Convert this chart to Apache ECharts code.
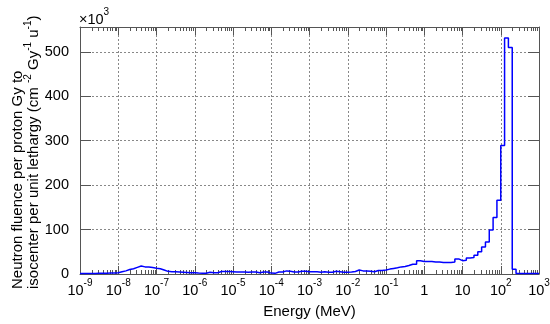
<!DOCTYPE html>
<html>
<head>
<meta charset="utf-8">
<script src="https://cdn.jsdelivr.net/npm/echarts@6/dist/echarts.min.js"></script>
<style>
  html, body { margin: 0; padding: 0; background: #fff; }
  #chart { width: 550px; height: 324px; }
</style>
</head>
<body>
<div id="chart"></div>
<script>
// Neutron fluence per unit lethargy (x10^3), histogram with 10 bins per decade, 1e-9 .. 1e3 MeV
const firstDecade = -9;
const lastDecade = 3;
const binsPerDecade = 10;

const fluence = [
  1, 1, 1, 1, 1.5, 1.5, 1.5, 2, 2, 3,            // 1e-9 .. 1e-8
  5, 7, 10, 12, 15, 18, 16, 16, 14.5, 13,        // 1e-8 .. 1e-7
  12, 9, 6, 5, 5, 4.5, 4, 3.5, 3, 3,             // 1e-7 .. 1e-6
  2, 1.5, 1.5, 4, 3, 3, 5.5, 5.5, 5.5, 5,        // 1e-6 .. 1e-5
  4.5, 4.5, 4.5, 4, 4.5, 4.5, 3, 4.5, 4.5, 2,    // 1e-5 .. 1e-4
  1.5, 4.5, 4.5, 7, 6, 4.5, 4.5, 6, 6, 5,        // 1e-4 .. 1e-3
  5, 5, 4, 5, 4, 4, 6, 5, 4, 4,                  // 1e-3 .. 1e-2
  4.5, 5.5, 9, 7, 7, 6, 5, 8, 8, 9,              // 1e-2 .. 1e-1
  11, 12.5, 14, 16, 17, 19, 22, 22, 30, 28,      // 1e-1 .. 1
  28, 28, 27, 27, 26, 26, 26, 27, 34, 30,        // 1 .. 10
  31, 36, 37, 42, 50, 61, 72, 99, 127, 166,      // 10 .. 100
  289, 531, 510, 10.5, 1, 1, 1, 1, 1, 1          // 100 .. 1000
];

const xTickLabels = [
  '{b|10}{s|-9}', '{b|10}{s|-8}', '{b|10}{s|-7}', '{b|10}{s|-6}', '{b|10}{s|-5}',
  '{b|10}{s|-4}', '{b|10}{s|-3}', '{b|10}{s|-2}', '{b|10}{s|-1}', '{b|1}',
  '{b|10}', '{b|10}{s|2}', '{b|10}{s|3}'
];

const yMax = 556;
const yStep = 100;

const font = 'Liberation Sans';
const frameColor = '#555';
const gridLine = { show: true, lineStyle: { color: '#888', type: [2, 2], width: 1 } };

// step points: left edge of each bin (in log10 E), closing point at the last edge
const points = fluence.map((v, i) => [firstDecade + i / binsPerDecade, v]);
points.push([lastDecade, fluence[fluence.length - 1]]);

const minorTicks = [];
for (let n = firstDecade; n < lastDecade; n++) {
  for (let k = 2; k <= 9; k++) minorTicks.push([n + Math.log10(k), 0]);
}

const rich = {
  b: { fontSize: 14.5, fontFamily: font, color: '#000', lineHeight: 26 },
  s: { fontSize: 10, fontFamily: font, color: '#000', verticalAlign: 'top' }
};

const chart = echarts.init(document.getElementById('chart'), null, { renderer: 'canvas' });

const xBase = {
  type: 'value',
  min: firstDecade,
  max: lastDecade,
  interval: 1,
  axisLine: { show: true, onZero: false, lineStyle: { color: frameColor, width: 1 } },
  axisTick: { show: true, inside: true, length: 8, lineStyle: { color: frameColor } },
  splitLine: { show: false }
};
const yBase = {
  type: 'value',
  min: 0,
  max: yMax,
  interval: yStep,
  axisLine: { show: true, onZero: false, lineStyle: { color: frameColor, width: 1 } },
  axisTick: { show: true, inside: true, length: 11, lineStyle: { color: frameColor } },
  splitLine: { show: false }
};

chart.setOption({
  animation: false,
  backgroundColor: '#fff',
  grid: { left: 80, right: 11, top: 27, bottom: 50, containLabel: false, outerBoundsMode: 'none' },
  xAxis: [
    Object.assign({}, xBase, {
      position: 'bottom',
      name: 'Energy (MeV)',
      nameLocation: 'middle',
      nameGap: 30,
      nameTextStyle: { fontSize: 15, fontFamily: font, color: '#000' },
      axisLabel: {
        margin: 4,
        formatter: v => xTickLabels[Math.round(v) - firstDecade],
        rich: rich
      },
      splitLine: gridLine
    }),
    Object.assign({}, xBase, { position: 'top', axisLabel: { show: false } })
  ],
  yAxis: [
    Object.assign({}, yBase, {
      position: 'left',
      axisLabel: {
        margin: 11,
        fontSize: 14.5,
        fontFamily: font,
        color: '#000',
        showMaxLabel: false,
        formatter: v => (v % yStep === 0 ? String(v) : '')
      },
      splitLine: gridLine
    }),
    Object.assign({}, yBase, { position: 'right', axisLabel: { show: false } })
  ],
  graphic: [
    {
      type: 'text',
      x: 79,
      y: 7,
      style: {
        text: '{b|×10}{s|3}',
        rich: rich,
        align: 'left',
        textAlign: 'left'
      }
    },
    {
      type: 'text',
      x: 17.5,
      y: 289,
      rotation: Math.PI / 2,
      style: {
        text: '{a|Neutron fluence per proton Gy to}',
        rich: { a: { fontSize: 15, fontFamily: font, color: '#000', lineHeight: 22 } },
        align: 'left',
        textAlign: 'left',
        verticalAlign: 'middle',
        textVerticalAlign: 'middle'
      }
    },
    {
      type: 'text',
      x: 34,
      y: 289,
      rotation: Math.PI / 2,
      style: {
        text: '{a|isocenter per unit lethargy (cm }{s|-2}{a| Gy}{s|-1}{a| u}{s|-1}{a|)}',
        rich: {
          a: { fontSize: 15, fontFamily: font, color: '#000', lineHeight: 22 },
          s: { fontSize: 10, fontFamily: font, color: '#000', verticalAlign: 'top' }
        },
        align: 'left',
        textAlign: 'left',
        verticalAlign: 'middle',
        textVerticalAlign: 'middle'
      }
    }
  ],
  series: [
    {
      type: 'line',
      data: points,
      step: 'end',
      symbol: 'none',
      lineStyle: { color: '#0000ff', width: 1.5 },
      z: 5
    },
    {
      type: 'custom',
      data: minorTicks,
      encode: { x: 0, y: 1 },
      silent: true,
      z: 4,
      renderItem: function (params, api) {
        const cs = params.coordSys;
        const px = Math.round(api.coord([api.value(0), 0])[0]) + 0.5;
        const bottom = cs.y + cs.height;
        return {
          type: 'group',
          children: [
            { type: 'line', shape: { x1: px, y1: bottom, x2: px, y2: bottom - 4 }, style: { stroke: frameColor, lineWidth: 1 } },
            { type: 'line', shape: { x1: px, y1: cs.y, x2: px, y2: cs.y + 4 }, style: { stroke: frameColor, lineWidth: 1 } }
          ]
        };
      }
    }
  ]
});
</script>
</body>
</html>
